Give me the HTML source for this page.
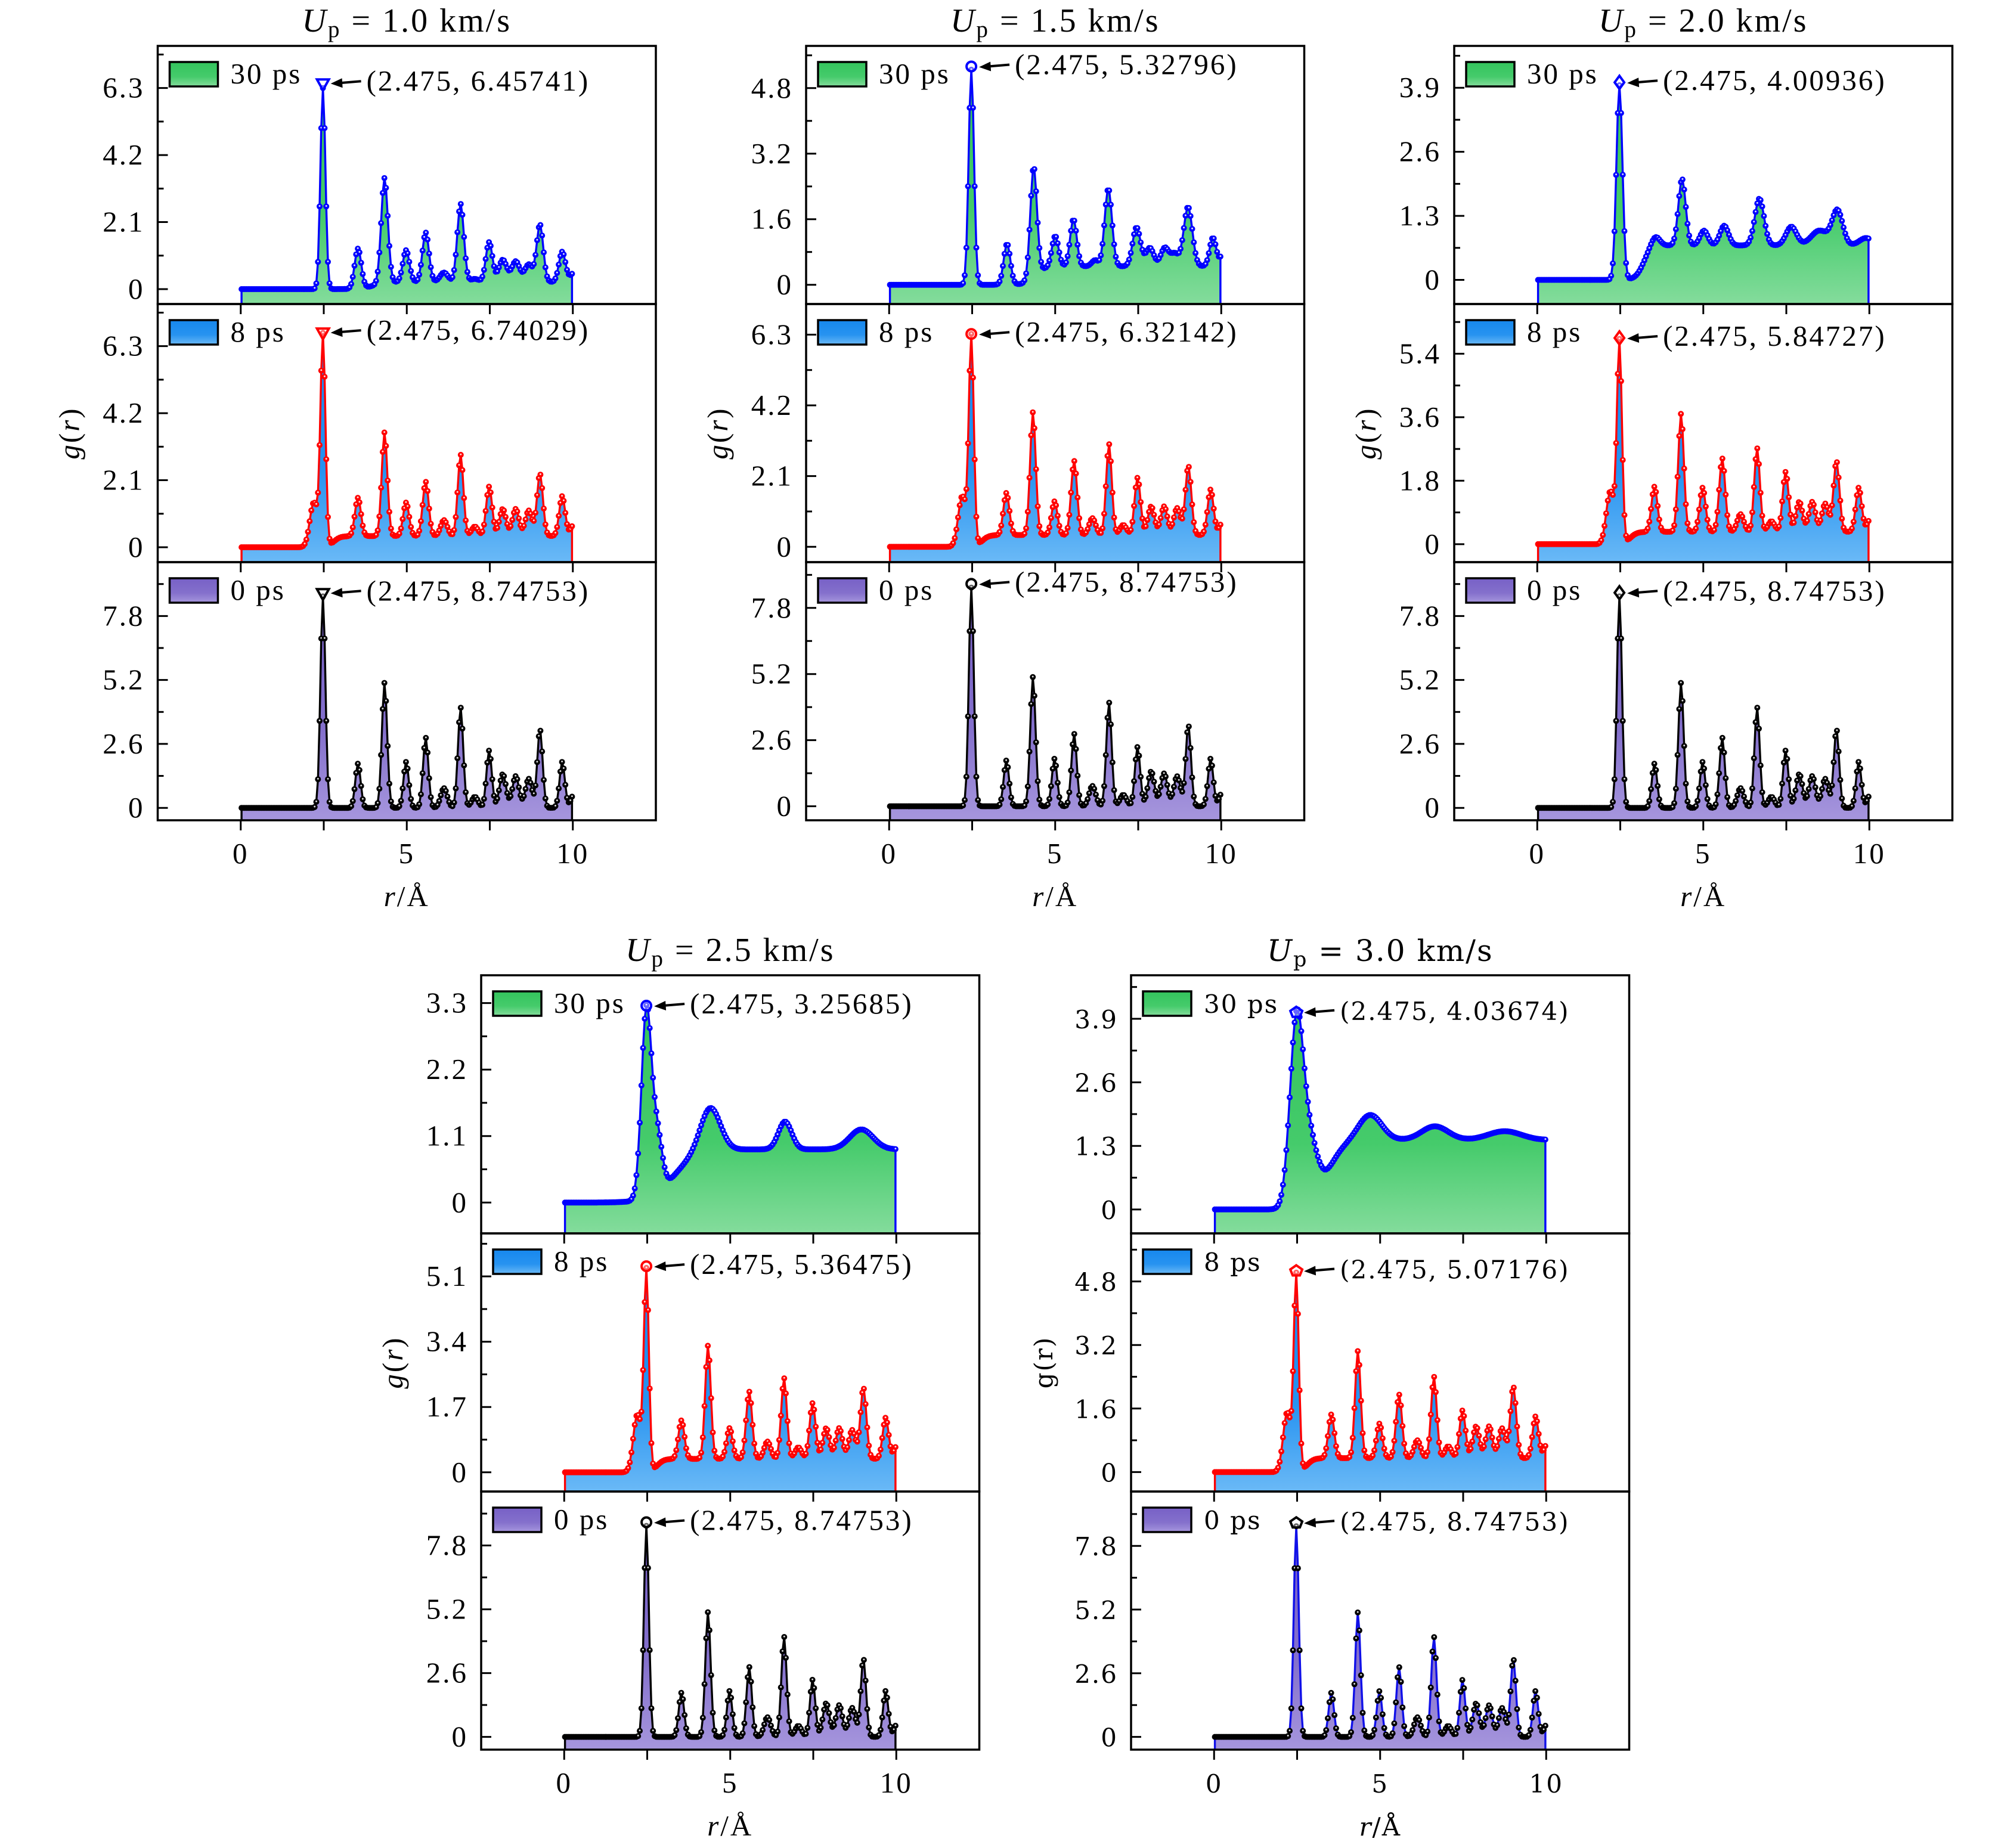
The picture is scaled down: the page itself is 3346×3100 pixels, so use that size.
<!DOCTYPE html>
<html><head><meta charset="utf-8"><style>
html,body{margin:0;padding:0;background:#fff;}
svg{display:block;}
</style></head><body>
<svg id="fig" xmlns="http://www.w3.org/2000/svg" width="3346" height="3100" viewBox="0 0 3346 3100">
<defs>
<linearGradient id="gGreen" x1="0" y1="0" x2="0" y2="1"><stop offset="0" stop-color="#33c45c"/><stop offset="0.6" stop-color="#45cb6b"/><stop offset="1" stop-color="#84dc9c"/></linearGradient>
<linearGradient id="gBlue" x1="0" y1="0" x2="0" y2="1"><stop offset="0" stop-color="#1687ee"/><stop offset="0.6" stop-color="#2793f0"/><stop offset="1" stop-color="#6ab9f6"/></linearGradient>
<linearGradient id="gPurple" x1="0" y1="0" x2="0" y2="1"><stop offset="0" stop-color="#7760c6"/><stop offset="0.6" stop-color="#8470cc"/><stop offset="1" stop-color="#a696dd"/></linearGradient>
</defs>
</svg>
<script>
// ---- data: peak decomposition of g(r) ----
const pos0 = [2.475,3.53,4.33,4.98,5.57,6.12,6.62,7.05,7.48,7.89,8.28,8.67,9.01,9.68,10.05];
const amp0 = [8.6,1.8,5.09,1.87,2.85,0.8,4.08,0.45,2.33,1.37,1.29,1.18,3.19,1.87,0.6];
const wid0 = [0.075,0.08,0.08,0.08,0.08,0.1,0.08,0.1,0.08,0.1,0.1,0.1,0.08,0.08,0.1];

const pos8 = [2.2,2.475,3.53,4.33,4.98,5.57,6.12,6.62,7.05,7.48,7.89,8.28,8.67,9.01,9.68,10.05];
const wid8 = [0.12,0.075,0.09,0.085,0.09,0.09,0.1,0.085,0.1,0.09,0.1,0.1,0.1,0.09,0.09,0.1];
const amp8A = [1.4,6.6,1.2,3.25,1.05,1.7,0.5,2.55,0.3,1.55,0.85,0.85,0.8,1.95,1.25,0.4];
const amp8B = [1.5,6.2,1.25,3.65,1.0,2.2,0.5,2.7,0.3,1.7,0.85,0.85,0.8,2.05,1.35,0.4];
const amp8C = [1.5,5.7,1.28,3.35,1.25,2.08,0.5,2.37,0.3,1.7,0.85,0.85,0.8,2.0,1.25,0.4];
const amp8D = [1.5,5.2,1.0,2.95,0.8,1.75,0.45,2.1,0.3,1.45,0.8,0.8,0.75,1.85,1.07,0.4];
const amp8E = [1.5,4.9,1.1,2.7,0.87,1.6,0.45,2.05,0.3,1.2,0.8,0.8,0.75,1.8,1.05,0.4];
const base8 = [0.35,2.8,0.1];

const pos30A = [2.475,3.53,4.33,4.98,5.57,6.12,6.62,7.05,7.48,7.89,8.28,8.67,9.01,9.68,10.05];
const amp30A = [6.3,1.25,3.3,1.0,1.55,0.3,2.45,0.1,1.25,0.7,0.65,0.55,1.8,0.95,0.3];
const wid30A = [0.075,0.1,0.1,0.1,0.1,0.12,0.1,0.12,0.1,0.12,0.12,0.12,0.1,0.1,0.12];
const base30A = [0.22,4.0,0.2];

const pos30B = [2.475,3.55,4.35,5.0,5.55,6.2,6.6,7.45,7.85,8.3,8.6,9.0,9.75,10.1];
const amp30B = [5.25,1.0,2.7,0.75,1.15,0.15,1.9,0.95,0.45,0.45,0.3,1.45,0.7,0.4];
const wid30B = [0.08,0.1,0.1,0.1,0.1,0.1,0.11,0.12,0.12,0.12,0.12,0.13,0.1,0.1];
const base30B = [0.45,4.4,0.15];

const pos30C = [2.475,3.56,4.36,5.02,5.63,6.69,7.65,8.5,9.04,9.9];
const amp30C = [3.95,0.2,1.35,0.3,0.4,0.95,0.38,0.3,0.7,0.15];
const wid30C = [0.09,0.13,0.11,0.12,0.13,0.14,0.16,0.25,0.16,0.2];
const base30C = [0.7,3.2,0.12];

const pos30D = [2.475,2.8,4.4,6.65,8.95];
const amp30D = [3.1,0.94,0.72,0.46,0.33];
const wid30D = [0.15,0.15,0.3,0.2,0.35];
const base30D = [0.88,3.3,0.35];

const pos30E = [2.475,2.85,4.7,6.65,8.75];
const amp30E = [3.6,1.3,0.52,0.28,0.18];
const wid30E = [0.2,0.25,0.35,0.4,0.5];
const base30E = [1.42,3.4,0.25];

const peakValues = [[6.45741,6.74029,8.74753],[5.32796,6.32142,8.74753],[4.00936,5.84727,8.74753],[3.25685,5.36475,8.74753],[4.03674,5.07176,8.74753]];
const peakLabels = [["(2.475, 6.45741)","(2.475, 6.74029)","(2.475, 8.74753)"],["(2.475, 5.32796)","(2.475, 6.32142)","(2.475, 8.74753)"],["(2.475, 4.00936)","(2.475, 5.84727)","(2.475, 8.74753)"],["(2.475, 3.25685)","(2.475, 5.36475)","(2.475, 8.74753)"],["(2.475, 4.03674)","(2.475, 5.07176)","(2.475, 8.74753)"]];
const panelTitles = ["1.0","1.5","2.0","2.5","3.0"];
const tickSteps = [[2.1,2.1,2.6],[1.6,2.1,2.6],[1.3,1.8,2.6],[1.1,1.7,2.6],[1.3,1.6,2.6]];
const yLims = [[[-0.467,7.62],[-0.467,7.62],[-0.504,9.99]],[[-0.47,5.83],[-0.455,7.21],[-0.55,9.6]],[[-0.49,4.75],[-0.51,6.81],[-0.504,9.99]],[[-0.51,3.76],[-0.5,6.22],[-0.52,10.0]],[[-0.49,4.79],[-0.49,6.01],[-0.52,10.02]]];
const xTicks = [0,5,10];
const xMinorTicks = [0,2.5,5,7.5,10];
const legendLabels = ["30 ps","8 ps","0 ps"];

const series30 = [[pos30A,amp30A,wid30A,base30A],[pos30B,amp30B,wid30B,base30B],[pos30C,amp30C,wid30C,base30C],[pos30D,amp30D,wid30D,base30D],[pos30E,amp30E,wid30E,base30E]];
const series8 = [amp8A,amp8B,amp8C,amp8D,amp8E];

// ---- layout ----
const NS = "http://www.w3.org/2000/svg";
const svg = document.getElementById('fig');
const panels = [{l:264.5,t:77},{l:1352,t:77},{l:2439,t:77},{l:807,t:1636},{l:1897,t:1636}];
const W = 835.5, H = 433, XMIN = -2.5, XMAX = 12.5;
const shapes = ['tri','circle','diamond','circle','pent'];

function el(tag, attrs, parent){
  const e = document.createElementNS(NS, tag);
  for (const k in attrs) e.setAttribute(k, attrs[k]);
  (parent||svg).appendChild(e);
  return e;
}
function gfun(pos, amp, wid, base){
  return function(r){
    let s = 0;
    for (let i=0;i<pos.length;i++){ const d=r-pos[i]; s += amp[i]*Math.exp(-d*d/(2*wid[i]*wid[i])); }
    if (base) s += base[0]/(1+Math.exp(-(r-base[1])/base[2]));
    return s;
  };
}
const rGrid = [];
for (let k=0;k<200;k++) rGrid.push(0.025+0.05*k);

panels.forEach((p, pi) => {
  const isE = pi === 4;
  const font = isE ? '"DejaVu Serif", serif' : '"Liberation Serif", serif';
  const fs = isE ? 42 : 49;
  const ls = isE ? 2 : 3;
  const gP = el('g', {});
  
  
  const X = v => p.l + (v - XMIN) / (XMAX - XMIN) * W;

  // title
  const tfs = isE ? 50 : 56;
  const title = el('text', {x: p.l + W/2, y: p.t - 24, 'text-anchor':'middle', 'font-family':font, 'font-size':tfs, 'letter-spacing':ls}, gP);
  
  
  const t1 = el('tspan', {'font-style':'italic'}, title); t1.textContent = 'U';
  const t2 = el('tspan', {'font-size': tfs*0.7, dy: 9}, title); t2.textContent = 'p';
  const t3 = el('tspan', {dy: -9}, title); t3.textContent = ' = ' + panelTitles[pi] + ' km/s';

  const kinds = [
    {fn: gfun(series30[pi][0], series30[pi][1], series30[pi][2], series30[pi][3]), line:'#0000ff', mark:'#0000ff', fill:'url(#gGreen)'},
    {fn: gfun(pos8, series8[pi], wid8, base8), line:'#ff0000', mark:'#ff0000', fill:'url(#gBlue)'},
    {fn: gfun(pos0, amp0, wid0, null), line: isE ? '#1010e8' : '#000000', mark:'#000000', fill:'url(#gPurple)'}
  ];

  kinds.forEach((k, si) => {
    const top = p.t + si*H, bot = top + H;
    const [y0, y1] = yLims[pi][si];
    const Y = v => bot - (v - y0) / (y1 - y0) * H;
    const gS = el('g', {}, gP);
    
    
    const clipId = 'c' + pi + '_' + si;
    const cp = el('clipPath', {id: clipId}, gS);
    el('rect', {x:p.l, y:top, width:W, height:H}, cp);
    const gc = el('g', {'clip-path':'url(#'+clipId+')'}, gS);

    const vals = rGrid.map(r => k.fn(r));
    let d = 'M' + X(rGrid[0]).toFixed(1) + ',' + bot;
    let ln = 'M' + X(rGrid[0]).toFixed(1) + ',' + bot;
    rGrid.forEach((r,i) => { const s = ' L' + X(r).toFixed(1) + ',' + Y(vals[i]).toFixed(1); d += s; ln += s; });
    d += ' L' + X(rGrid[rGrid.length-1]).toFixed(1) + ',' + bot + ' Z';
    ln += ' L' + X(rGrid[rGrid.length-1]).toFixed(1) + ',' + bot;
    const area = el('path', {d: d, fill: k.fill, stroke:'none'}, gc);
    
    
    const line = el('path', {d: ln, fill:'none', stroke:k.line, 'stroke-width':3.4, 'stroke-linejoin':'round'}, gc);
    
    
    const gm = el('g', {}, gc);
    
    
    rGrid.forEach((r,i) => {
      const cx = X(r), cy = Y(vals[i]);
      const c = el('circle', {cx:cx.toFixed(1), cy:cy.toFixed(1), r:5, fill:k.mark}, gm);
      
      
      el('circle', {cx:cx.toFixed(1), cy:(cy-0.8).toFixed(1), r:1.5, fill:'#ffffff', opacity:0.85}, gm);
    });

    // frame
    const fr = el('rect', {x:p.l, y:top, width:W, height:H, fill:'none', stroke:'#000', 'stroke-width':3.5}, gS);
    
    

    // y ticks
    const T = tickSteps[pi][si];
    for (let j=0;j<=8;j++){
      const v = j*T/2; if (v > y1) break;
      const yy = Y(v); const major = j%2===0;
      el('line', {x1:p.l, x2:p.l + (major?17:10), y1:yy, y2:yy, stroke:'#000', 'stroke-width':3}, gS);
      if (major && j<=6){
        const tl = el('text', {x:p.l-22, y:yy+16, 'text-anchor':'end', 'font-family':font, 'font-size':fs, 'letter-spacing':ls}, gS);
        
        
        tl.textContent = +(v.toFixed(2)) + '';
      }
    }
    xMinorTicks.forEach(v => {
      el('line', {x1:X(v), x2:X(v), y1:bot, y2:bot+17, stroke:'#000', 'stroke-width':3}, gS);
    });

    // legend
    const lg = el('g', {}, gS);
    
    
    el('rect', {x:p.l+20, y:top+27, width:81, height:41, fill:k.fill, stroke:'#000', 'stroke-width':3.5}, lg);
    const lt = el('text', {x:p.l+122, y:top+63, 'font-family':font, 'font-size':fs, 'letter-spacing':ls}, lg);
    lt.textContent = legendLabels[si];

    // peak annotation
    const pv = peakValues[pi][si];
    const px = X(2.475), py = Y(pv);
    const shp = shapes[pi];
    const ms = el(shp==='circle'?'circle':'polygon', {}, gS);
    
    
    const mc = k.line === '#1010e8' ? '#000' : k.mark;
    if (shp==='circle'){ ms.setAttribute('cx',px); ms.setAttribute('cy',py); ms.setAttribute('r',8); }
    else if (shp==='tri'){ ms.setAttribute('points', `${px-10},${py-6} ${px+10},${py-6} ${px},${py+12}`); }
    else if (shp==='diamond'){ ms.setAttribute('points', `${px},${py-11} ${px+8},${py} ${px},${py+11} ${px-8},${py}`); }
    else { ms.setAttribute('points', `${px},${py-9} ${px+10},${py-2} ${px+6},${py+8} ${px-6},${py+8} ${px-10},${py-2}`); }
    ms.setAttribute('fill', '#ffffff'); ms.setAttribute('fill-opacity','0.4');
    ms.setAttribute('stroke', mc); ms.setAttribute('stroke-width', 4);
    const ar = el('g', {}, gS);
    
    
    el('line', {x1:px+64, y1:py-3, x2:px+28, y2:py, stroke:'#000', 'stroke-width':4}, ar);
    el('polygon', {points:`${px+13},${py+1} ${px+32},${py-8} ${px+33},${py+8}`, fill:'#000'}, ar);
    const at = el('text', {x:px+73, y:py+13, 'font-family':font, 'font-size':fs, 'letter-spacing':ls}, gS);
    
    
    at.textContent = peakLabels[pi][si];
  });

  const bottom = p.t + 3*H;
  xTicks.forEach(v => {
    const xl = el('text', {x:X(v), y:bottom+72, 'text-anchor':'middle', 'font-family':font, 'font-size':fs, 'letter-spacing':ls}, gP);
    
    
    xl.textContent = v;
  });
  const xt = el('text', {x:p.l+W/2, y:bottom+144, 'text-anchor':'middle', 'font-family':font, 'font-size':fs, 'letter-spacing':ls}, gP);
  
  
  const xa = el('tspan', {'font-style':'italic'}, xt); xa.textContent = 'r';
  const xb = el('tspan', {}, xt); xb.textContent = '/Å';

  const cy = p.t + 1.5*H, cx = p.l - 146;
  const yt = el('text', {x:cx, y:cy, 'text-anchor':'middle', 'font-family':font, 'font-size':fs, 'letter-spacing':ls, transform:`rotate(-90 ${cx} ${cy})`, dy: 14}, gP);
  
  
  if (isE) { yt.textContent = 'g(r)'; }
  else {
    const a = el('tspan', {'font-style':'italic'}, yt); a.textContent = 'g';
    const b = el('tspan', {}, yt); b.textContent = '(';
    const c = el('tspan', {'font-style':'italic'}, yt); c.textContent = 'r';
    const e2 = el('tspan', {}, yt); e2.textContent = ')';
  }
});
</script>
</body></html>
